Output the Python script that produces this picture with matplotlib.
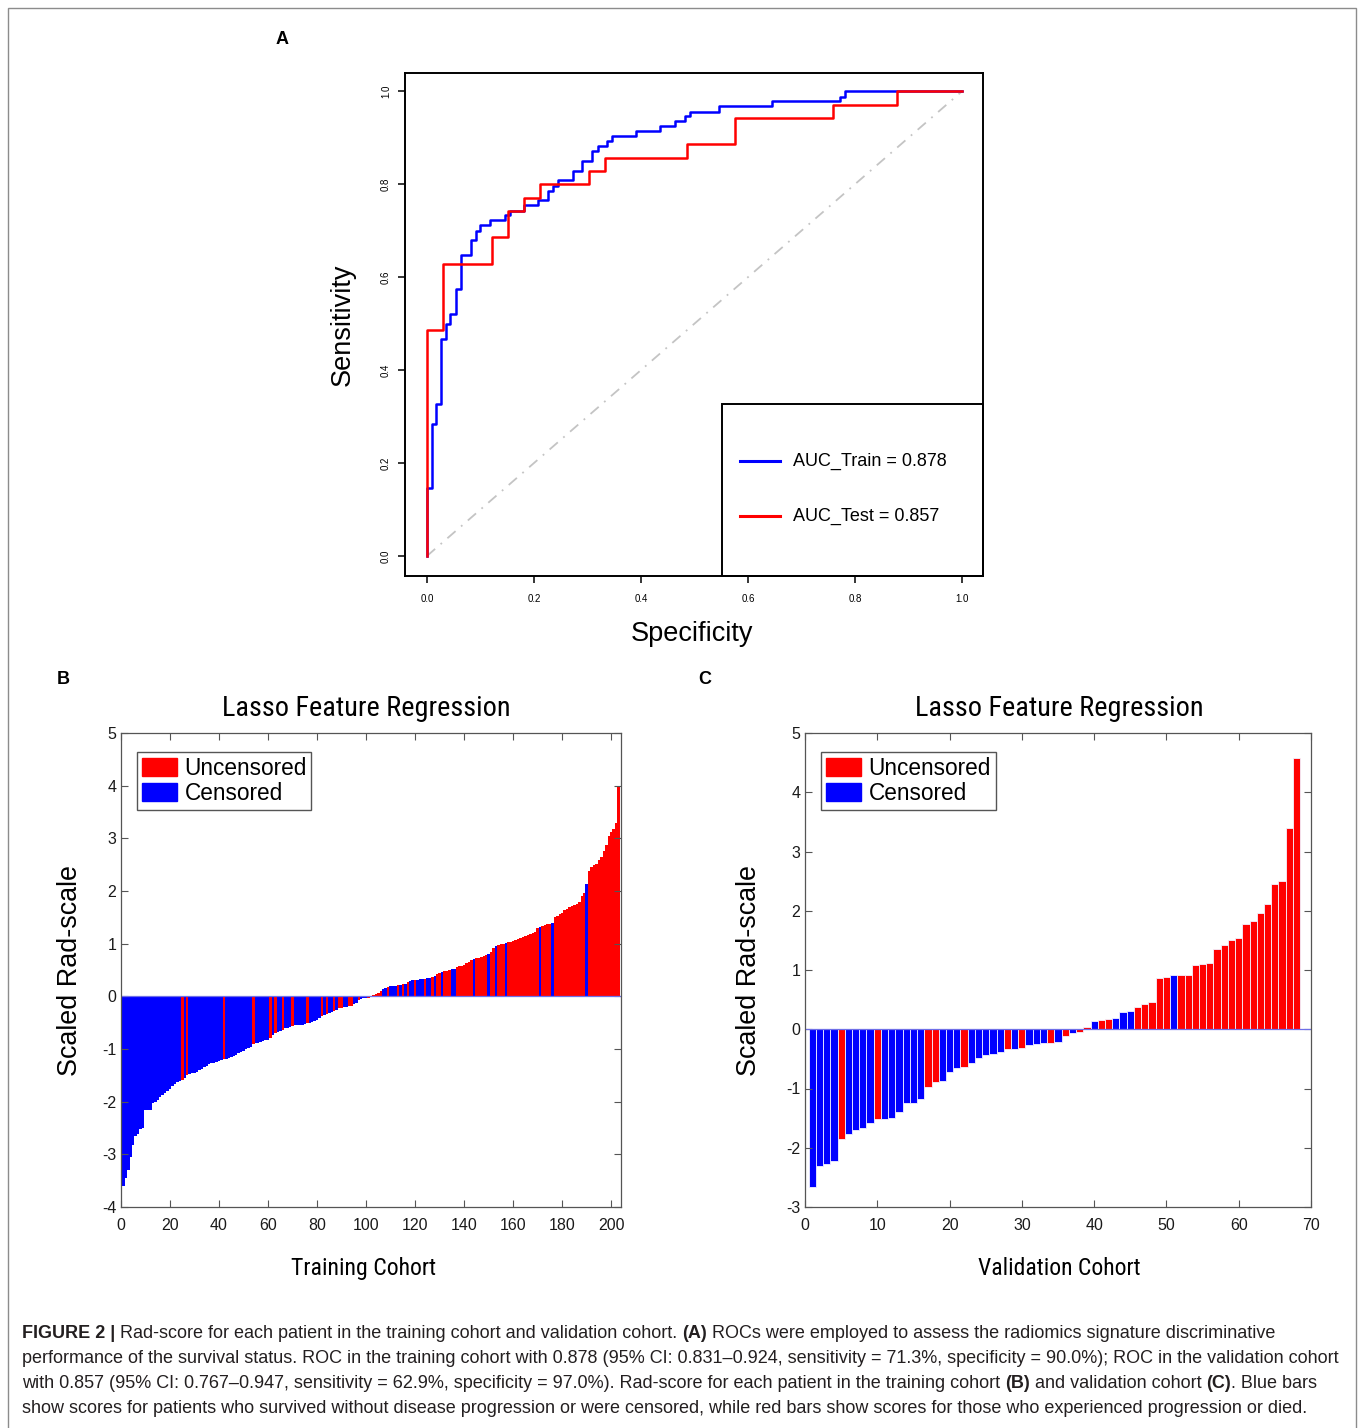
import matplotlib
matplotlib.use("Agg")
import matplotlib.pyplot as plt
from matplotlib import font_manager as fm
from matplotlib.patches import Patch, Rectangle
import numpy as np

plt.rcParams['font.family'] = ['Liberation Sans', 'DejaVu Sans']
plt.rcParams['axes.unicode_minus'] = False

# ---------------- data ----------------
# ROC step corners (1 - specificity, sensitivity)
train_fpr = [0.0, 0.0, 0.009, 0.017, 0.027, 0.036, 0.044, 0.054, 0.063, 0.082,
             0.091, 0.100, 0.118, 0.146, 0.155, 0.182, 0.208, 0.227, 0.236, 0.244,
             0.272, 0.290, 0.309, 0.319, 0.337, 0.346, 0.391, 0.436, 0.464, 0.482,
             0.492, 0.546, 0.645, 0.772, 0.782, 1.0]
train_tpr = [0.0, 0.147, 0.285, 0.328, 0.466, 0.498, 0.520, 0.574, 0.647, 0.680,
             0.700, 0.712, 0.722, 0.733, 0.743, 0.754, 0.765, 0.786, 0.797, 0.808,
             0.829, 0.850, 0.872, 0.882, 0.893, 0.903, 0.914, 0.925, 0.935, 0.946,
             0.956, 0.968, 0.978, 0.988, 1.0, 1.0]
test_fpr = [0.0, 0.0, 0.030, 0.121, 0.152, 0.182, 0.212, 0.303, 0.333, 0.485,
            0.576, 0.758, 0.879, 1.0]
test_tpr = [0.0, 0.486, 0.629, 0.686, 0.743, 0.771, 0.800, 0.829, 0.857, 0.886,
            0.943, 0.971, 1.0, 1.0]
auc_train = 0.878
auc_test = 0.857

# training cohort rad-scores (sorted) and status, C = censored, U = uncensored
train_scores = [
    -3.60, -3.44, -3.29, -3.05, -2.82, -2.65, -2.62, -2.52, -2.50, -2.16,
    -2.15, -2.15, -2.02, -2.00, -1.96, -1.92, -1.87, -1.83, -1.79, -1.75,
    -1.70, -1.66, -1.62, -1.60, -1.58, -1.56, -1.50, -1.47, -1.46, -1.45,
    -1.43, -1.40, -1.38, -1.35, -1.33, -1.29, -1.27, -1.26, -1.24, -1.22,
    -1.21, -1.19, -1.19, -1.17, -1.16, -1.14, -1.11, -1.08, -1.05, -1.03,
    -1.00, -0.98, -0.96, -0.90, -0.89, -0.88, -0.86, -0.84, -0.83, -0.82,
    -0.79, -0.74, -0.70, -0.68, -0.66, -0.63, -0.61, -0.60, -0.58, -0.56,
    -0.55, -0.55, -0.54, -0.54, -0.53, -0.51, -0.50, -0.49, -0.47, -0.44,
    -0.42, -0.38, -0.36, -0.33, -0.31, -0.30, -0.27, -0.25, -0.22, -0.22,
    -0.21, -0.20, -0.18, -0.18, -0.14, -0.12, -0.07, -0.05, -0.04, -0.03,
    -0.03, -0.02, 0.03, 0.05, 0.07, 0.10, 0.14, 0.16, 0.18, 0.19,
    0.20, 0.20, 0.21, 0.22, 0.23, 0.24, 0.28, 0.30, 0.31, 0.31,
    0.31, 0.32, 0.32, 0.33, 0.34, 0.35, 0.36, 0.38, 0.42, 0.44,
    0.46, 0.48, 0.49, 0.50, 0.51, 0.52, 0.55, 0.57, 0.58, 0.60,
    0.63, 0.66, 0.69, 0.71, 0.72, 0.73, 0.74, 0.76, 0.78, 0.80,
    0.84, 0.92, 0.96, 0.98, 0.99, 1.00, 1.01, 1.03, 1.04, 1.05,
    1.07, 1.08, 1.10, 1.12, 1.14, 1.17, 1.18, 1.20, 1.22, 1.30,
    1.31, 1.33, 1.35, 1.37, 1.38, 1.40, 1.50, 1.52, 1.56, 1.58,
    1.63, 1.65, 1.70, 1.72, 1.74, 1.76, 1.80, 1.90, 1.97, 2.13,
    2.38, 2.46, 2.50, 2.52, 2.58, 2.65, 2.76, 2.88, 3.05, 3.12,
    3.18, 3.30, 4.00]
train_status = ("CCCCCCCCCC" "CCCCCCCCCC" "CCCCUCUCCC" "CCCCCCCCCC" "CUCCCCCCCC"
                "CCCUCCCCCC" "UCUCCUCCCU" "CCCCCUCCCC" "CUCUCCUCUU" "CCUUCCUCCC"
                "UCUUUUCCUC" "CCUCUCUCCU" "CCCUCCUCUU" "CUUUCCUUUU" "UUUCUUUUUC"
                "UUCUUUCUUU" "UUUUUUUUUU" "CUUUUCUUUU" "UUUUUUUUUC" "UUUUUUUUUU"
                "UUU")

# validation cohort
valid_scores = [
    -2.67, -2.31, -2.28, -2.23, -1.86, -1.77, -1.70, -1.66, -1.59, -1.52,
    -1.51, -1.49, -1.39, -1.24, -1.24, -1.18, -0.97, -0.89, -0.87, -0.72,
    -0.66, -0.63, -0.57, -0.49, -0.44, -0.42, -0.38, -0.34, -0.33, -0.31,
    -0.26, -0.25, -0.24, -0.24, -0.21, -0.11, -0.07, -0.04, 0.04, 0.14,
    0.16, 0.17, 0.19, 0.29, 0.31, 0.38, 0.42, 0.46, 0.87, 0.89,
    0.91, 0.91, 0.92, 1.09, 1.10, 1.12, 1.36, 1.42, 1.50, 1.54,
    1.77, 1.82, 1.97, 2.12, 2.45, 2.51, 3.39, 4.58]
valid_status = ("CCCCUCCCCU" "CCCCCCUUCC" "CUCCCCCUCU" "CCCUCUCUUC" "UUCCCUUUUU"
                "CUUUUUUUUU" "UUUUUUUU")

caption_lines = [
    [("FIGURE 2 |", True), (" Rad-score for each patient in the training cohort and validation cohort. ", False),
     ("(A)", True), (" ROCs were employed to assess the radiomics signature discriminative", False)],
    [("performance of the survival status. ROC in the training cohort with 0.878 (95% CI: 0.831\u20130.924, "
      "sensitivity = 71.3%, specificity = 90.0%); ROC in the validation cohort", False)],
    [("with 0.857 (95% CI: 0.767\u20130.947, sensitivity = 62.9%, specificity = 97.0%). Rad-score for each "
      "patient in the training cohort ", False), ("(B)", True), (" and validation cohort ", False),
     ("(C)", True), (". Blue bars", False)],
    [("show scores for patients who survived without disease progression or were censored, while red bars "
      "show scores for those who experienced progression or died.", False)],
]

RED = '#ff0000'
BLUE = '#0000ff'
W, H = 1358, 1428

# look for an installed narrow / condensed sans face for the MATLAB-style titles
NARROW, STRETCH = ['Liberation Sans', 'DejaVu Sans'], 'normal'
_pref = ['Liberation Sans Narrow', 'Arial Narrow', 'DejaVu Sans Condensed', 'Roboto Condensed',
         'Noto Sans Condensed', 'Open Sans Condensed']
_found = {f.name: f.stretch for f in fm.fontManager.ttflist
          if f.style == 'normal' and ('Narrow' in f.name or 'Condensed' in f.name
                                      or f.stretch in ('condensed', 'semi-condensed', 'extra-condensed'))}
for name in _pref + sorted(_found):
    if name in _found:
        NARROW = [name, 'Liberation Sans', 'DejaVu Sans']
        STRETCH = _found[name] if isinstance(_found[name], str) else 'condensed'
        break

fig = plt.figure(figsize=(W / 100, H / 100), dpi=100)
renderer = fig.canvas.get_renderer()


def px_axes(left, top, right, bottom):
    return fig.add_axes([left / W, 1 - bottom / H, (right - left) / W, (bottom - top) / H])


def fit_width(t, target_px):
    # scale a text so that its rendered width matches the reference
    w = t.get_window_extent(renderer).width
    t.set_fontsize(t.get_fontsize() * target_px / w)


# outer frame
fig.add_artist(Rectangle((8 / W, -0.01), (1356 - 8) / W, 1.01 - 8 / H,
                         transform=fig.transFigure, fill=False, edgecolor='#8c8c8c', lw=1.0))

# ---------------- panel A: ROC ----------------
ax = px_axes(405, 73, 983, 576)
ax.plot([0, 1], [0, 1], color='#c4c4c4', lw=1.3, linestyle=(0, (6, 4, 1, 4)))
ax.plot(train_fpr, train_tpr, color=BLUE, lw=1.8, drawstyle='steps-post')
ax.plot(test_fpr, test_tpr, color=RED, lw=1.8, drawstyle='steps-post')
ax.set_xlim(-0.041, 1.039)
ax.set_ylim(-0.043, 1.039)
ticks = np.arange(0, 1.01, 0.2)
ax.set_xticks(ticks)
ax.set_yticks(ticks)
ax.set_xticklabels([f"{v:.1f}" for v in ticks], fontsize=7)
ax.set_yticklabels([f"{v:.1f}" for v in ticks], fontsize=7, rotation=90, va='center')
ax.tick_params(direction='out', length=5, width=1.1)
ax.tick_params(axis='x', pad=8)
ax.tick_params(axis='y', pad=5)
for sp in ax.spines.values():
    sp.set_linewidth(1.4)
ax.set_xlabel("Specificity", fontsize=19.5)
ax.set_ylabel("Sensitivity", fontsize=19.5)
ax.xaxis.set_label_coords(0.497, -0.09)
ax.yaxis.set_label_coords(-0.085, 0.5)

# legend box in the lower right corner
lx0 = (722 - 405) / 578
ly1 = (576 - 404) / 503
ax.add_patch(Rectangle((lx0, 0), 1 - lx0, ly1, transform=ax.transAxes, fill=False,
                       edgecolor='black', lw=1.4, clip_on=False))
for yy, col, txt in [((576 - 461) / 503, BLUE, f"AUC_Train = {auc_train:.3f}"),
                     ((576 - 516) / 503, RED, f"AUC_Test = {auc_test:.3f}")]:
    ax.plot([(740 - 405) / 578, (780 - 405) / 578], [yy, yy], color=col, lw=2.2,
            transform=ax.transAxes)
    ax.text((793 - 405) / 578, yy, txt, transform=ax.transAxes, fontsize=13,
            va='center', ha='left')


# ---------------- panels B & C ----------------
def bar_panel(ax, scores, status, xmax, ymin, xstep, edge, title_x):
    x = np.arange(1, len(scores) + 1)
    colors = [RED if s == 'U' else BLUE for s in status]
    if edge:
        ax.bar(x, scores, width=1.0, color=colors, edgecolor='#f2f2ff', linewidth=0.6)
    else:
        ax.bar(x, scores, width=1.0, color=colors, linewidth=0)
    ax.axhline(0, color='#6f6fe8', lw=0.9)
    ax.set_xlim(0, xmax)
    ax.set_ylim(ymin, 5)
    ax.set_xticks(np.arange(0, xmax + 0.1, xstep))
    ax.set_yticks(np.arange(ymin, 5.1, 1))
    ax.tick_params(direction='in', top=True, right=True, length=5, width=0.8,
                   color='#555555', labelsize=11.5, labelcolor='#1a1a1a')
    ax.tick_params(axis='x', pad=8)
    for sp in ax.spines.values():
        sp.set_color('#555555')
        sp.set_linewidth(0.9)
    t = ax.set_title("Lasso Feature Regression", family=NARROW, fontstretch=STRETCH,
                     fontsize=21.5, pad=12, x=title_x)
    fit_width(t, 288)
    ax.legend(handles=[Patch(color=RED, label='Uncensored'), Patch(color=BLUE, label='Censored')],
              loc='upper left', bbox_to_anchor=(16 / 500, 1 - 19 / 474), borderaxespad=0,
              fontsize=16.3, fancybox=False, edgecolor='#555555', framealpha=1,
              handlelength=1.55, handleheight=0.85, handletextpad=0.35,
              labelspacing=0.12, borderpad=0.2)


axB = px_axes(121, 733, 621, 1207)
bar_panel(axB, train_scores, train_status, 204, -4, 20, False, 0.49)
lb = axB.set_xlabel("Training Cohort", family=NARROW, fontstretch=STRETCH, fontsize=18.4)
fit_width(lb, 145)
axB.set_ylabel("Scaled Rad-scale", fontsize=19.4)
axB.xaxis.set_label_coords(0.486, -0.105)
axB.yaxis.set_label_coords(-0.076, 0.5)

axC = px_axes(805, 733, 1311, 1207)
bar_panel(axC, valid_scores, valid_status, 70, -3, 10, True, 0.502)
lc = axC.set_xlabel("Validation Cohort", family=NARROW, fontstretch=STRETCH, fontsize=18.4)
fit_width(lc, 162)
axC.set_ylabel("Scaled Rad-scale", fontsize=19.4)
axC.xaxis.set_label_coords(0.502, -0.105)
axC.yaxis.set_label_coords(-0.085, 0.5)

# panel letters
for lab, xp, yp in [("A", 282, 40), ("B", 63, 679), ("C", 705, 679)]:
    fig.text(xp / W, 1 - yp / H, lab, fontsize=13, fontweight='bold', ha='center', va='center')

# ---------------- caption ----------------
probe = fig.text(0, 0, caption_lines[1][0][0], fontsize=12)
cap_size = 12 * 1319 / probe.get_window_extent(renderer).width
probe.remove()
for i, runs in enumerate(caption_lines):
    xpix = 22
    ybase = 1338 + 25 * i
    for txt, bold in runs:
        t = fig.text(xpix / W, 1 - ybase / H, txt, fontsize=cap_size, color='#231f20',
                     fontweight='bold' if bold else 'normal', va='baseline', ha='left')
        xpix = t.get_window_extent(renderer).x1

fig.savefig("out.png", dpi=100)
